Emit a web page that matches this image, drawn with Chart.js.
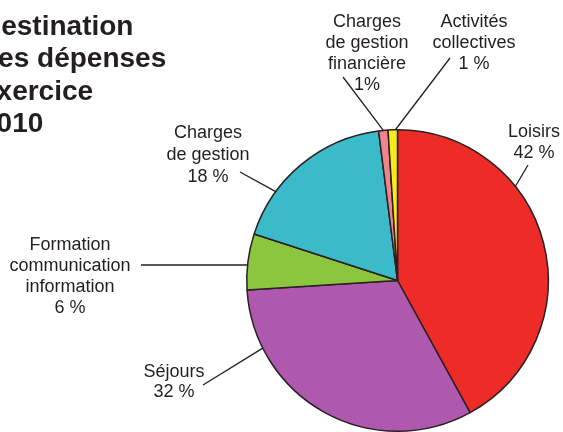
<!DOCTYPE html>
<html>
<head>
<meta charset="utf-8">
<script src="https://cdn.jsdelivr.net/npm/chart.js@4.4.1/dist/chart.umd.min.js"></script>
<style>
html,body{margin:0;padding:0;background:#fff;}
#wrap{position:relative;width:563px;height:432px;}
</style>
</head>
<body>
<div id="wrap"><canvas id="c" width="563" height="432"></canvas></div>
<script>
// ---- data ----
const categories = ["Loisirs", "Séjours", "Formation communication information", "Charges de gestion", "Charges de gestion financière", "Activités collectives"];
const values = [42, 32, 6, 18, 1, 1];
const valueLabels = ["42 %", "32 %", "6 %", "18 %", "1%", "1 %"];
const labelLines = [
  ["Loisirs", "42 %"],
  ["Séjours", "32 %"],
  ["Formation", "communication", "information", "6 %"],
  ["Charges", "de gestion", "18 %"],
  ["Charges", "de gestion", "financière", "1%"],
  ["Activités", "collectives", "1 %"]
];
const titleLines = ["Destination", "des dépenses", "exercice", "2010"];
const colors = ["#EE2C27", "#AE58AE", "#8CC63F", "#3BBBC9", "#F0848C", "#F7EC1A"];

// ---- label layout (positions / styles) ----
const labelPos = [
  {x: 534, y: 137, lh: 21, t: 0.34, lx: 528, ly: 165},
  {x: 174, y: 377, lh: 20, t: 0.80, lx: 203, ly: 385},
  {x: 70,  y: 250, lh: 21, t: 0.45, lx: 141, ly: 265, horiz: true},
  {x: 208, y: 138, lh: 22, t: 0.28, lx: 240, ly: 172},
  {x: 367, y: 27,  lh: 21, t: 0.5,  lx: 343, ly: 77},
  {x: 474, y: 27,  lh: 21, t: 0.78, lx: 450, ly: 58}
];

const annot = {
  id: 'annot',
  afterDraw(chart) {
    const ctx = chart.ctx;
    const meta = chart.getDatasetMeta(0);
    ctx.save();
    // title
    ctx.fillStyle = '#231f20';
    ctx.font = 'bold 28px "Liberation Sans", Arial, sans-serif';
    ctx.textAlign = 'left';
    ctx.textBaseline = 'alphabetic';
    const tys = [35, 67, 100, 132];
    titleLines.forEach((s, i) => ctx.fillText(s, -19, tys[i]));
    // labels
    ctx.font = '18px "Liberation Sans", Arial, sans-serif';
    ctx.textAlign = 'center';
    labelLines.forEach((lines, i) => {
      const p = labelPos[i];
      lines.forEach((s, j) => ctx.fillText(s, p.x, p.y + j * p.lh));
      const arc = meta.data[i];
      const a = arc.startAngle + p.t * (arc.endAngle - arc.startAngle);
      const r = arc.outerRadius;
      let ex = arc.x + Math.cos(a) * r, ey = arc.y + Math.sin(a) * r;
      ctx.beginPath();
      ctx.strokeStyle = '#231f20';
      ctx.lineWidth = 1.3;
      ctx.moveTo(p.lx, p.ly);
      if (p.horiz) ey = p.ly;
      ctx.lineTo(ex, ey);
      ctx.stroke();
    });
    ctx.restore();
  }
};

new Chart(document.getElementById('c'), {
  type: 'pie',
  data: {
    labels: categories,
    datasets: [{
      data: values,
      backgroundColor: colors,
      borderColor: '#2a1f22',
      borderWidth: 1.5
    }]
  },
  options: {
    responsive: false,
    animation: false,
    layout: {padding: {left: 246, right: 14, top: 129, bottom: 0}},
    plugins: {legend: {display: false}, tooltip: {enabled: false}, title: {display: false}}
  },
  plugins: [annot]
});
</script>
</body>
</html>
